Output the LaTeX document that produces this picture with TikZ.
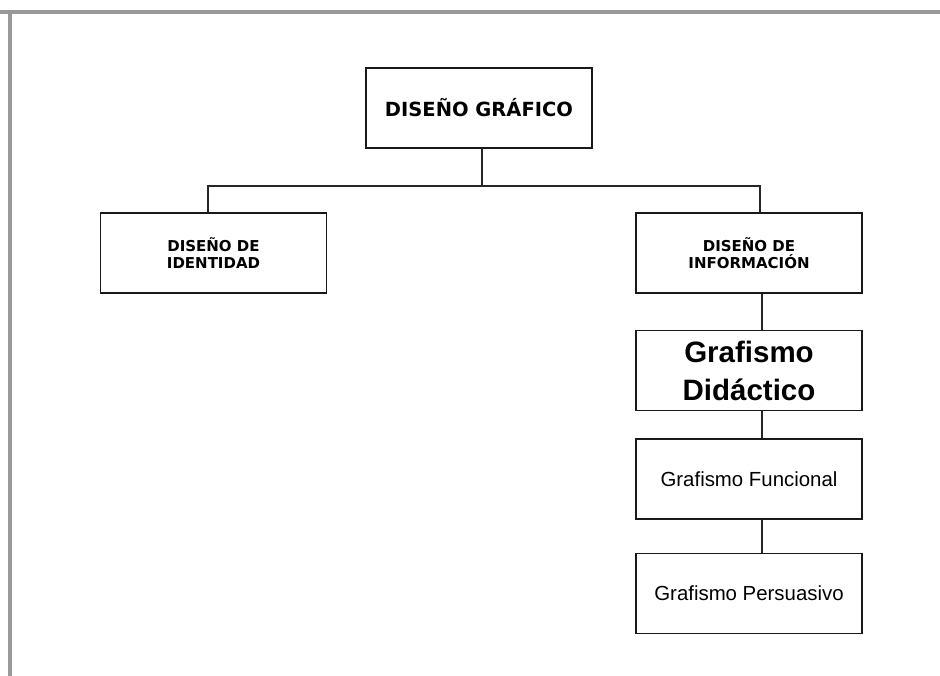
\documentclass[tikz,border=0pt]{standalone}
\usepackage{fontspec}
\setmainfont{Liberation Sans}
\newfontfamily\heavyfont{DejaVu Sans}
\usetikzlibrary{positioning, calc}

\begin{document}
\begin{tikzpicture}
        [
            x=1pt, y=-1pt,
            box/.style={rectangle, draw=black!90, line width=1.6pt,
                        minimum width=226pt, minimum height=80pt,
                        inner sep=2pt, align=center},
            caps/.style={box, font=\heavyfont\bfseries\fontsize{15}{17}\selectfont},
            wire/.style={draw=black!85, line width=1.4pt}
        ]
        \useasboundingbox [fill=white] (0,0) rectangle (940,676);
        \draw [black!40, line width=4pt] (0,12) -- (940,12);
        \draw [black!40, line width=4pt] (10,10) -- (10,676);
        \node (grafico) [box, font=\heavyfont\bfseries\fontsize{19.5}{22}\selectfont]
            at (479,108) {DISEÑO GRÁFICO};
        \node (identidad) [caps] at (213.5,253) {DISEÑO DE\\IDENTIDAD};
        \node (informacion) [caps] at (749,253) {DISEÑO DE\\INFORMACIÓN};
        \node (didactico) [box, font=\bfseries\fontsize{29.5}{38}\selectfont]
            at (749,370.5) {Grafismo\\Didáctico};
        \node (funcional) [box, font=\fontsize{20.4}{24}\selectfont]
            at (749,479) {Grafismo Funcional};
        \node (persuasivo) [box, font=\fontsize{20.4}{24}\selectfont]
            at (749,593.5) {Grafismo Persuasivo};
        \coordinate (trunk) at (482,0);
        \coordinate (lbranch) at (208,186);
        \coordinate (rbranch) at (760,186);
        \coordinate (spine) at (762,0);
        \draw [wire] (grafico.south -| trunk) |- (lbranch) -- (identidad.north -| lbranch);
        \draw [wire] (lbranch) -- (rbranch) -- (informacion.north -| rbranch);
        \foreach \i/\j in {informacion/didactico,didactico/funcional,funcional/persuasivo}
            \draw [wire] (\i.south -| spine) -- (\j.north -| spine);
\end{tikzpicture}
\end{document}
